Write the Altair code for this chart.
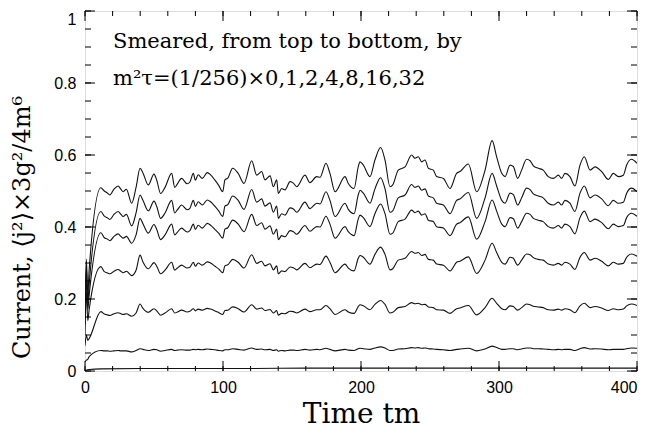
import altair as alt
import pandas as pd

# ---- data ----
t_main = [0, 1, 2, 3, 11.5, 14, 16, 18, 21, 24, 26, 27.7, 30, 33.8, 37, 39.9, 42, 45.9, 50, 52,
          54.8, 58, 62.8, 65, 67, 70, 74, 76, 78.5, 80, 82, 85, 88.6, 91, 94.2, 97, 99.8, 101.4,
          103.5, 107, 111, 115.2, 120.8, 124.4, 128, 130.4, 134.1, 136.5, 138.9, 140.1, 142.5,
          144.9, 148.6, 151, 153.4, 159.4, 163, 167.9, 170.3, 174.6, 177.5, 181.2, 188.4, 190.8,
          195, 198, 199.3, 201.7, 206.5, 210.1, 214.2, 217.4, 221, 223, 227, 231.9, 236.7, 239.1,
          241.5, 244, 246.4, 248.8, 252.4, 254.8, 259.7, 264.5, 269.3, 271.7, 277.8, 283.8, 289.9,
          295, 298.3, 302, 304.4, 308, 310.4, 313.5, 316.4, 320, 322.5, 324.9, 328.5, 332, 335.7,
          339.4, 343, 345.4, 347.8, 351.4, 355, 358.7, 361.8, 366, 369.6, 374.4, 379.2, 382.8,
          386.5, 390.1, 392.5, 396, 400]

s1 = [0.18, 0.31, 0.21, 0.28,
      0.509, 0.500, 0.495, 0.489, 0.505, 0.514, 0.505, 0.498, 0.505, 0.466,
      0.510, 0.563, 0.550, 0.517, 0.547, 0.530, 0.493, 0.510, 0.549, 0.510,
      0.520, 0.535, 0.520, 0.525, 0.549, 0.530, 0.545, 0.535, 0.551, 0.545,
      0.530, 0.515, 0.498, 0.531, 0.536, 0.563, 0.549, 0.521, 0.584, 0.544,
      0.554, 0.531, 0.542, 0.512, 0.531, 0.493, 0.507, 0.503, 0.526, 0.522,
      0.512, 0.544, 0.523, 0.540, 0.538, 0.577, 0.549, 0.498, 0.540, 0.521,
      0.507, 0.567, 0.581, 0.572, 0.540, 0.586, 0.621, 0.586, 0.512, 0.517,
      0.558, 0.567, 0.600, 0.591, 0.595, 0.581, 0.586, 0.563, 0.558, 0.540,
      0.535, 0.507, 0.549, 0.554, 0.575, 0.498, 0.558, 0.640, 0.595, 0.549,
      0.540, 0.572, 0.568, 0.535, 0.558, 0.588, 0.584, 0.570, 0.563, 0.558,
      0.540, 0.535, 0.544, 0.535, 0.549, 0.540, 0.514, 0.572, 0.595, 0.558,
      0.567, 0.554, 0.532, 0.549, 0.540, 0.544, 0.572, 0.588, 0.577]

s2 = [0.15, 0.29, 0.19, 0.24,
      0.443, 0.430, 0.426, 0.421, 0.435, 0.443, 0.435, 0.429, 0.435, 0.403,
      0.439, 0.489, 0.474, 0.445, 0.472, 0.457, 0.424, 0.439, 0.474, 0.439,
      0.448, 0.461, 0.448, 0.452, 0.474, 0.457, 0.470, 0.461, 0.475, 0.470,
      0.457, 0.444, 0.429, 0.458, 0.462, 0.486, 0.474, 0.449, 0.504, 0.469,
      0.478, 0.458, 0.467, 0.441, 0.458, 0.424, 0.437, 0.433, 0.453, 0.450,
      0.441, 0.469, 0.451, 0.466, 0.464, 0.498, 0.474, 0.429, 0.466, 0.449,
      0.437, 0.489, 0.502, 0.494, 0.466, 0.506, 0.537, 0.506, 0.441, 0.445,
      0.481, 0.489, 0.518, 0.510, 0.514, 0.502, 0.506, 0.486, 0.481, 0.466,
      0.461, 0.437, 0.474, 0.478, 0.496, 0.424, 0.481, 0.549, 0.514, 0.474,
      0.466, 0.494, 0.490, 0.461, 0.481, 0.508, 0.504, 0.492, 0.486, 0.481,
      0.466, 0.461, 0.469, 0.461, 0.474, 0.466, 0.443, 0.494, 0.514, 0.481,
      0.489, 0.478, 0.459, 0.474, 0.466, 0.469, 0.494, 0.508, 0.498]

s3 = [0.13, 0.26, 0.17, 0.21,
      0.384, 0.370, 0.367, 0.362, 0.374, 0.381, 0.374, 0.369, 0.374, 0.355,
      0.378, 0.424, 0.409, 0.383, 0.407, 0.393, 0.365, 0.378, 0.408, 0.378,
      0.386, 0.397, 0.386, 0.390, 0.408, 0.393, 0.405, 0.397, 0.410, 0.405,
      0.393, 0.382, 0.369, 0.394, 0.398, 0.419, 0.408, 0.387, 0.435, 0.404,
      0.412, 0.394, 0.403, 0.380, 0.394, 0.365, 0.376, 0.373, 0.390, 0.387,
      0.380, 0.404, 0.388, 0.401, 0.400, 0.430, 0.408, 0.369, 0.401, 0.387,
      0.376, 0.422, 0.433, 0.426, 0.401, 0.437, 0.464, 0.437, 0.380, 0.383,
      0.415, 0.422, 0.447, 0.440, 0.444, 0.433, 0.437, 0.419, 0.415, 0.401,
      0.397, 0.376, 0.408, 0.412, 0.428, 0.366, 0.415, 0.475, 0.444, 0.408,
      0.401, 0.426, 0.423, 0.397, 0.415, 0.438, 0.435, 0.424, 0.419, 0.415,
      0.401, 0.397, 0.404, 0.397, 0.408, 0.401, 0.381, 0.426, 0.444, 0.415,
      0.422, 0.412, 0.395, 0.408, 0.401, 0.404, 0.426, 0.438, 0.430]

s4 = [0.10, 0.22, 0.14, 0.17,
      0.290, 0.276, 0.273, 0.270, 0.277, 0.282, 0.277, 0.273, 0.277, 0.265,
      0.280, 0.322, 0.303, 0.284, 0.301, 0.291, 0.270, 0.280, 0.302, 0.280,
      0.286, 0.294, 0.286, 0.288, 0.302, 0.291, 0.300, 0.294, 0.303, 0.300,
      0.291, 0.283, 0.273, 0.292, 0.295, 0.310, 0.302, 0.286, 0.323, 0.299,
      0.305, 0.292, 0.298, 0.281, 0.292, 0.270, 0.278, 0.276, 0.289, 0.287,
      0.281, 0.299, 0.287, 0.297, 0.296, 0.319, 0.302, 0.273, 0.297, 0.286,
      0.278, 0.313, 0.321, 0.316, 0.297, 0.324, 0.344, 0.324, 0.281, 0.284,
      0.308, 0.313, 0.332, 0.327, 0.329, 0.321, 0.324, 0.310, 0.308, 0.297,
      0.294, 0.278, 0.302, 0.305, 0.317, 0.271, 0.308, 0.355, 0.329, 0.302,
      0.297, 0.316, 0.313, 0.294, 0.308, 0.325, 0.323, 0.315, 0.310, 0.308,
      0.297, 0.294, 0.299, 0.294, 0.302, 0.297, 0.282, 0.316, 0.329, 0.308,
      0.313, 0.305, 0.292, 0.302, 0.297, 0.299, 0.316, 0.325, 0.319]

s5 = [0.07, 0.10, 0.085, 0.09,
      0.165, 0.158, 0.156, 0.154, 0.159, 0.162, 0.159, 0.157, 0.159, 0.152,
      0.161, 0.186, 0.174, 0.163, 0.173, 0.167, 0.155, 0.161, 0.173, 0.161,
      0.164, 0.169, 0.164, 0.166, 0.173, 0.167, 0.172, 0.169, 0.174, 0.172,
      0.167, 0.162, 0.157, 0.168, 0.169, 0.178, 0.173, 0.164, 0.184, 0.172,
      0.175, 0.168, 0.171, 0.161, 0.168, 0.155, 0.160, 0.159, 0.166, 0.165,
      0.161, 0.172, 0.165, 0.170, 0.170, 0.182, 0.173, 0.157, 0.170, 0.164,
      0.160, 0.179, 0.184, 0.181, 0.170, 0.185, 0.196, 0.185, 0.161, 0.163,
      0.176, 0.179, 0.190, 0.187, 0.188, 0.184, 0.185, 0.178, 0.176, 0.170,
      0.169, 0.160, 0.173, 0.175, 0.182, 0.156, 0.176, 0.202, 0.188, 0.173,
      0.170, 0.181, 0.179, 0.169, 0.176, 0.186, 0.184, 0.180, 0.178, 0.176,
      0.170, 0.169, 0.172, 0.169, 0.173, 0.170, 0.162, 0.181, 0.188, 0.176,
      0.179, 0.175, 0.168, 0.173, 0.170, 0.172, 0.181, 0.186, 0.182]

s6 = [0.025, 0.03, 0.032, 0.04,
      0.057, 0.056, 0.056, 0.055, 0.056, 0.057, 0.056, 0.056, 0.056, 0.053,
      0.057, 0.062, 0.060, 0.057, 0.060, 0.059, 0.055, 0.057, 0.060, 0.057,
      0.058, 0.059, 0.058, 0.058, 0.060, 0.059, 0.060, 0.059, 0.061, 0.060,
      0.059, 0.057, 0.056, 0.059, 0.059, 0.062, 0.060, 0.058, 0.064, 0.060,
      0.061, 0.059, 0.060, 0.057, 0.059, 0.055, 0.057, 0.056, 0.058, 0.058,
      0.057, 0.060, 0.058, 0.060, 0.059, 0.063, 0.060, 0.056, 0.060, 0.058,
      0.057, 0.062, 0.063, 0.062, 0.060, 0.064, 0.067, 0.064, 0.057, 0.057,
      0.061, 0.062, 0.065, 0.064, 0.065, 0.063, 0.064, 0.062, 0.061, 0.060,
      0.059, 0.057, 0.060, 0.061, 0.063, 0.056, 0.061, 0.069, 0.065, 0.060,
      0.060, 0.062, 0.062, 0.059, 0.061, 0.064, 0.064, 0.062, 0.062, 0.061,
      0.060, 0.059, 0.060, 0.059, 0.060, 0.060, 0.057, 0.062, 0.065, 0.061,
      0.062, 0.061, 0.059, 0.060, 0.060, 0.060, 0.062, 0.064, 0.063]

t7 = [0, 3, 12, 40, 80, 120, 160, 200, 240, 280, 320, 360, 400]
s7 = [0.001, 0.004, 0.006, 0.007, 0.007, 0.007, 0.008, 0.008, 0.008, 0.008, 0.008, 0.008, 0.008]

x_major = [0, 100, 200, 300, 400]
x_minor = list(range(0, 401, 20))
y_major = [0, 0.2, 0.4, 0.6, 0.8, 1.0]
y_minor = [round(i * 0.05, 2) for i in range(21)]

note_lines = ["Smeared, from top to bottom, by", "m\u00b2\u03c4=(1/256)\u00d70,1,2,4,8,16,32"]
x_title = "Time tm"
y_title = "Current, \u27e8j\u00b2\u27e9\u00d73g\u00b2/4m\u2076"

# ---- build table ----
rows = []
for name, ts, vs in [("a", t_main, s1), ("b", t_main, s2), ("c", t_main, s3), ("d", t_main, s4),
                     ("e", t_main, s5), ("f", t_main, s6), ("g", t7, s7)]:
    for a, b in zip(ts, vs):
        rows.append({"t": a, "v": b, "s": name})
df = pd.DataFrame(rows)

W, H = 552, 360
xs = alt.Scale(domain=[0, 400], nice=False, zero=False)
ys = alt.Scale(domain=[0, 1], nice=False, zero=False)

lines = alt.Chart(df).mark_line(color="#111", strokeWidth=1.1, clip=True,
                                interpolate="monotone").encode(
    x=alt.X("t:Q", scale=xs, axis=alt.Axis(
        values=x_major, title=x_title, ticks=False, domain=False, grid=False,
        labelFont="Liberation Sans", labelFontSize=16, labelColor="black", labelPadding=8,
        labelFlush=False,
        labelAlign=alt.ExprRef(expr="datum.value == 400 ? 'right' : 'center'"),
        titleFont="DejaVu Serif", titleFontSize=28, titleFontWeight="normal",
        titleColor="black", titlePadding=5)),
    y=alt.Y("v:Q", scale=ys, axis=alt.Axis(
        values=y_major, title=y_title, ticks=False, domain=False, grid=False, format="~g",
        labelFont="Liberation Sans", labelFontSize=16, labelColor="black", labelPadding=9,
        labelFlush=False,
        labelBaseline=alt.ExprRef(expr="datum.value == 1 ? 'top' : 'middle'"),
        titleFont="DejaVu Serif", titleFontSize=24, titleFontWeight="normal",
        titleColor="black", titleX=-63, titleY=216, titleAngle=270, titleAlign="center",
        titleBaseline="middle")),
    detail="s:N",
)

xmin_df = pd.DataFrame({"t": x_minor})
xmaj_df = pd.DataFrame({"t": x_major})
ymin_df = pd.DataFrame({"v": y_minor})
ymaj_df = pd.DataFrame({"v": y_major})

def xticks(d, L):
    bottom = alt.Chart(d).mark_rule(color="black", strokeWidth=1).encode(
        x=alt.X("t:Q", scale=xs), y=alt.value(H), y2=alt.value(H - L))
    top = alt.Chart(d).mark_rule(color="black", strokeWidth=1).encode(
        x=alt.X("t:Q", scale=xs), y=alt.value(0), y2=alt.value(L))
    return [bottom, top]

def yticks(d, L):
    left = alt.Chart(d).mark_rule(color="black", strokeWidth=1).encode(
        y=alt.Y("v:Q", scale=ys), x=alt.value(0), x2=alt.value(L))
    right = alt.Chart(d).mark_rule(color="black", strokeWidth=1).encode(
        y=alt.Y("v:Q", scale=ys), x=alt.value(W), x2=alt.value(W - L))
    return [left, right]

note_df = pd.DataFrame({"txt": note_lines})
note1 = alt.Chart(note_df.iloc[[0]]).mark_text(
    align="left", baseline="alphabetic", font="DejaVu Serif", fontSize=21, color="black"
).encode(text="txt:N", x=alt.value(28), y=alt.value(37))
note2 = alt.Chart(note_df.iloc[[1]]).mark_text(
    align="left", baseline="alphabetic", font="DejaVu Serif", fontSize=21, color="black"
).encode(text="txt:N", x=alt.value(28), y=alt.value(74))

layers = [lines] + xticks(xmin_df, 5) + xticks(xmaj_df, 10) + yticks(ymin_df, 6) + yticks(ymaj_df, 10) + [note1, note2]

chart = alt.layer(*layers).properties(
    width=W, height=H,
    autosize=alt.AutoSizeParams(type="none"),
    padding={"left": 77, "top": 3, "right": 5, "bottom": 58},
).configure_view(stroke="black", strokeWidth=1.5).configure(background="white")

chart.save("out.html", embed_options={"renderer": "svg", "actions": False})
